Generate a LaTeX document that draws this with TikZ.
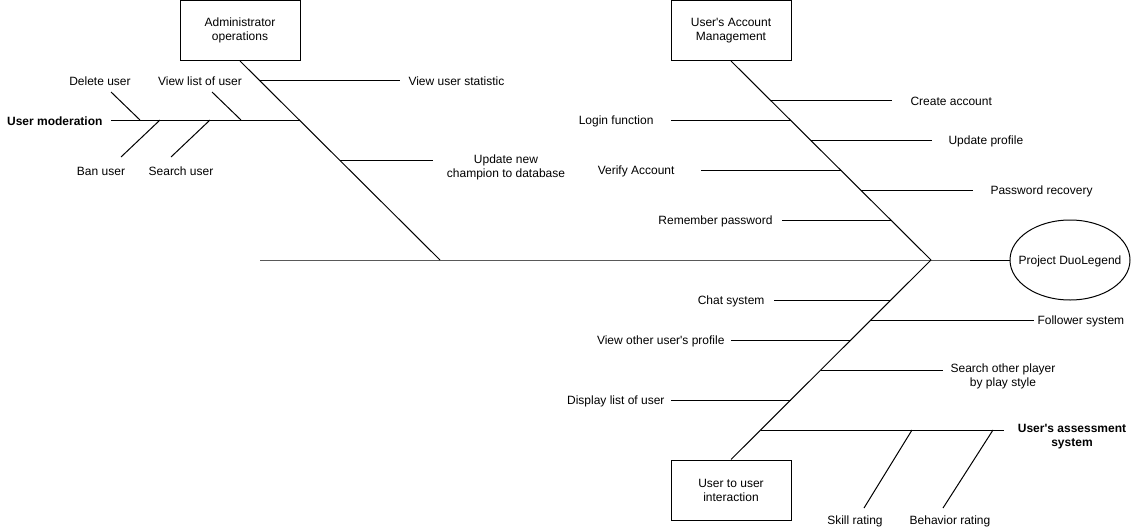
\documentclass[tikz,border=0pt]{standalone}
\usepackage{fontspec}
\setmainfont{Liberation Sans}
\usetikzlibrary{shapes.geometric}
\begin{document}
\begin{tikzpicture}[x=0.75pt,y=-0.75pt,
  line width=0.75pt,
  every node/.style={font=\fontsize{9}{10.5}\selectfont, inner sep=0pt},
  txt/.style={yshift=-0.75pt},
  catbox/.style={draw, minimum width=90pt, minimum height=45pt, align=center},
  goal/.style={draw, ellipse, minimum width=90pt, minimum height=60pt},
  lbl/.style={align=center, yshift=-0.75pt},
  bold/.style={font=\fontsize{9}{10.5}\selectfont\bfseries, align=center, yshift=-0.75pt},
  bone/.style={draw, line width=0.75pt}
]
\useasboundingbox (0,0) rectangle (1136,532);

% ---------- boxes and head ----------
\node[catbox] (admin) at (240,30.5) {Administrator\\operations};
\node[catbox] (acct) at (731,30.5) {User\textquotesingle s Account\\Management};
\node[catbox] (inter) at (731,490) {User to user\\interaction};
\node[goal] (head) at (1070,260) {};
\node[txt] (headtxt) at (head.center) {Project DuoLegend};

% ---------- main line ----------
\coordinate (tail) at (260,260);
\coordinate (adminEnd) at (440,260);
\coordinate (joint) at (931,260);
\draw[bone] (tail) -- (joint) -- (head.west);

% ---------- spines ----------
\draw[bone] (admin.south) -- (adminEnd);
\draw[bone] (acct.south) -- (joint);
\draw[bone] (inter.north) -- (joint);

% ---------- Administrator operations ----------
\node[txt, anchor=west] (vus) at (408,80) {View user statistic};
\coordinate (vusA) at (260,80);
\coordinate (vusB) at (400,80);
\draw[bone] (vusA) -- (vusB);

\node[bold, anchor=east] (umod) at (103,120) {User moderation};
\coordinate (umodA) at (111,120);
\coordinate (umodB) at (300,120);
\draw[bone] (umodA) -- (umodB);

\node[txt] (del) at (100,80) {Delete user};
\coordinate (delA) at (111,92);
\coordinate (delB) at (140,120);
\draw[bone] (delA) -- (delB);

\node[txt] (vlu) at (200,80) {View list of user};
\coordinate (vluA) at (212,92);
\coordinate (vluB) at (241,120);
\draw[bone] (vluA) -- (vluB);

\node[txt] (ban) at (101,170) {Ban user};
\coordinate (banA) at (160,120);
\coordinate (banB) at (121,157);
\draw[bone] (banA) -- (banB);

\node[txt] (srch) at (181,170) {Search user};
\coordinate (srchA) at (210,120);
\coordinate (srchB) at (171,157);
\draw[bone] (srchA) -- (srchB);

\node[lbl] (upd) at (506,166) {Update new\\champion to database};
\coordinate (updA) at (340,160);
\coordinate (updB) at (433,160);
\draw[bone] (updA) -- (updB);

% ---------- User's Account Management ----------
\node[txt, anchor=west] (create) at (910,100) {Create account};
\coordinate (createA) at (771,100);
\coordinate (createB) at (892,100);
\draw[bone] (createA) -- (createB);

\node[txt, anchor=east] (login) at (654,120) {Login function};
\coordinate (loginA) at (671,120);
\coordinate (loginB) at (791,120);
\draw[bone] (loginA) -- (loginB);

\node[txt, anchor=west] (uprof) at (948,140) {Update profile};
\coordinate (uprofA) at (811,140);
\coordinate (uprofB) at (932,140);
\draw[bone] (uprofA) -- (uprofB);

\node[txt, anchor=east] (verify) at (675,170) {Verify Account};
\coordinate (verifyA) at (701,170);
\coordinate (verifyB) at (841,170);
\draw[bone] (verifyA) -- (verifyB);

\node[txt, anchor=west] (prec) at (990,190) {Password recovery};
\coordinate (precA) at (861,190);
\coordinate (precB) at (973,190);
\draw[bone] (precA) -- (precB);

\node[txt, anchor=east] (remem) at (773,220) {Remember password};
\coordinate (rememA) at (782,220);
\coordinate (rememB) at (891,220);
\draw[bone] (rememA) -- (rememB);

% ---------- User to user interaction ----------
\node[txt, anchor=east] (chat) at (765,300) {Chat system};
\coordinate (chatA) at (774,300);
\coordinate (chatB) at (891,300);
\draw[bone] (chatA) -- (chatB);

\node[txt, anchor=west] (follow) at (1037,320) {Follower system};
\coordinate (followA) at (871,320);
\coordinate (followB) at (1034,320);
\draw[bone] (followA) -- (followB);

\node[txt, anchor=east] (vop) at (725,340) {View other user\textquotesingle s profile};
\coordinate (vopA) at (731,340);
\coordinate (vopB) at (851,340);
\draw[bone] (vopA) -- (vopB);

\node[lbl] (sop) at (1003,375.5) {Search other player\\by play style};
\coordinate (sopA) at (821,370);
\coordinate (sopB) at (943,370);
\draw[bone] (sopA) -- (sopB);

\node[txt, anchor=east] (dlu) at (665,400) {Display list of user};
\coordinate (dluA) at (671,400);
\coordinate (dluB) at (791,400);
\draw[bone] (dluA) -- (dluB);

\node[bold] (assess) at (1072,435.5) {User\textquotesingle s assessment\\system};
\coordinate (assessA) at (761,430);
\coordinate (assessB) at (1004,430);
\draw[bone] (assessA) -- (assessB);

\node[txt] (skill) at (855,520) {Skill rating};
\coordinate (skillA) at (912,430);
\coordinate (skillB) at (864,508);
\draw[bone] (skillA) -- (skillB);

\node[txt] (behav) at (950,520) {Behavior rating};
\coordinate (behavA) at (993,430);
\coordinate (behavB) at (943,508);
\draw[bone] (behavA) -- (behavB);
\end{tikzpicture}
\end{document}
